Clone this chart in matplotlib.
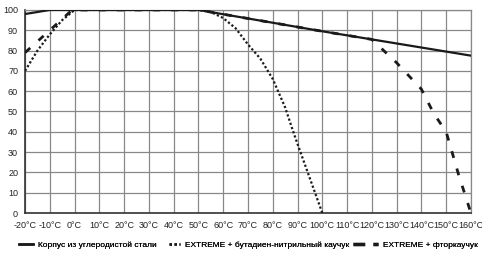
import matplotlib
matplotlib.use("Agg")
import matplotlib.pyplot as plt
from matplotlib.lines import Line2D

# temperature grid, degrees C
ticks_x = list(range(-20, 161, 10))
tick_labels_x = [f"{t}°C" for t in ticks_x]
ticks_y = list(range(0, 101, 10))

# carbon steel body
steel_t = [-20, -10, 50, 100, 120, 160]
steel_v = [98, 100, 100, 89.5, 85.5, 77.5]

# EXTREME + NBR
nbr_t = [-20, -15, -10, -5, 0, 50, 55, 60, 65, 70, 75, 80, 85, 88, 90, 95, 100]
nbr_v = [70, 80, 88, 95, 100, 100, 99, 96, 91, 83, 76, 66, 52, 41, 34, 17, 0]

# EXTREME + FKM
fkm_t = [-20, -10, -1, 50, 100, 120, 130, 140, 145, 150, 155, 160]
fkm_v = [79, 90, 100, 100, 89.5, 85.5, 74, 61, 49, 40, 19, 0]

labels = [
    "Корпус из углеродистой стали",
    "EXTREME + бутадиен-нитрильный каучук",
    "EXTREME + фторкаучук",
]

plt.rcParams["font.family"] = ["Liberation Sans", "DejaVu Sans"]

fig = plt.figure(figsize=(4.82, 2.62), dpi=100)
ax = fig.add_axes([0.052, 0.187, 0.925, 0.775])

ax.plot(steel_t, steel_v, color="#1a1a1a", lw=1.6, zorder=3)
ax.plot(nbr_t, nbr_v, color="#1a1a1a", lw=1.6, linestyle=(0, (1, 1)), zorder=3)
ax.plot(fkm_t, fkm_v, color="#1a1a1a", lw=2, linestyle=(0, (2.5, 4)), zorder=3)

ax.set_xlim(-20, 160)
ax.set_ylim(0, 100)
ax.set_xticks(ticks_x)
ax.set_xticklabels(tick_labels_x)
ax.set_yticks(ticks_y)
ax.tick_params(length=0, labelsize=6.5, colors="#222222", pad=6)
ax.tick_params(axis="y", pad=5)
ax.grid(True, color="#888888", lw=0.9)
ax.set_axisbelow(True)
for side in ("top", "right"):
    ax.spines[side].set_color("#888888")
    ax.spines[side].set_linewidth(0.9)
for side in ("left", "bottom"):
    ax.spines[side].set_color("#333333")
    ax.spines[side].set_linewidth(1.2)

# legend entries placed one by one, as in the original layout
handles = [
    Line2D([], [], color="#1a1a1a", lw=1.8),
    Line2D([], [], color="#1a1a1a", lw=1.8, linestyle=(0, (1, 1))),
    Line2D([], [], color="#1a1a1a", lw=2.4, linestyle=(0, (3.5, 2.5))),
]
anchors_x = [0.040, 0.350, 0.733]
lengths = [1.6, 1.4, 3.0]
for h, lab, x0, hl in zip(handles, labels, anchors_x, lengths):
    leg = fig.legend(
        [h], [lab], loc="center left", bbox_to_anchor=(x0, 0.065),
        frameon=False, fontsize=6, handlelength=hl, handletextpad=0.6,
        borderpad=0, borderaxespad=0,
    )
    fig.add_artist(leg)

fig.savefig("out.png", dpi=100)
